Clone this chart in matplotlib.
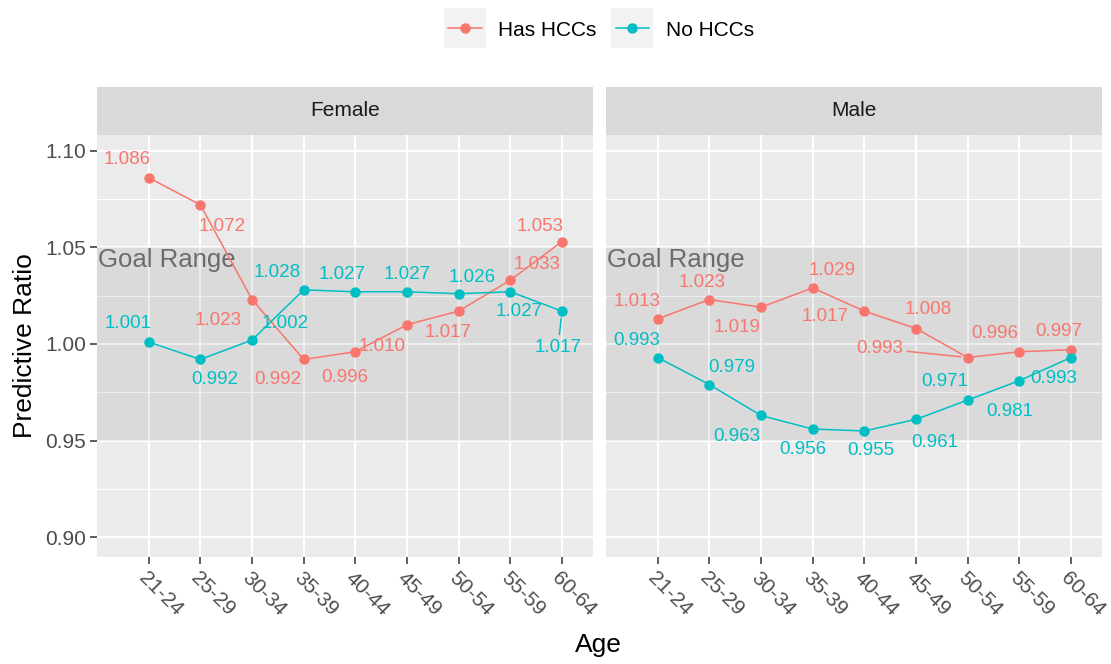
import matplotlib
matplotlib.use("Agg")
import matplotlib.pyplot as plt
from matplotlib.patches import Rectangle
from matplotlib.lines import Line2D
from matplotlib.legend_handler import HandlerLine2D
import matplotlib.transforms as mtransforms

plt.rcParams['font.family'] = ['Liberation Sans', 'DejaVu Sans']

ages = ["21-24", "25-29", "30-34", "35-39", "40-44", "45-49", "50-54", "55-59", "60-64"]
panels = ["Female", "Male"]
series = ["Has HCCs", "No HCCs"]

female_has = [1.086, 1.072, 1.023, 0.992, 0.996, 1.010, 1.017, 1.033, 1.053]
female_no = [1.001, 0.992, 1.002, 1.028, 1.027, 1.027, 1.026, 1.027, 1.017]
male_has = [1.013, 1.023, 1.019, 1.029, 1.017, 1.008, 0.993, 0.996, 0.997]
male_no = [0.993, 0.979, 0.963, 0.956, 0.955, 0.961, 0.971, 0.981, 0.993]

goal_low, goal_high = 0.95, 1.05
yticks = [0.90, 0.95, 1.00, 1.05, 1.10]

# label offsets (pixels, right/up) emulating ggrepel placement
off_female_has = [(-21, 18), (22, -22), (-34, -21), (-26, -20), (-11, -26), (-25, -22), (-11, -21), (27, 16), (-22, 15)]
off_female_no = [(-21, 19), (14, -20), (33, 17), (-26, 17), (-13, 17), (0, 17), (14, 16), (9, -20), (-4, -36)]
off_male_has = [(-21, 17), (-7, 17), (-24, -20), (19, 17), (-39, -5), (12, 19), (-88, 9), (-25, 18), (-12, 18)]
off_male_no = [(-21, 17), (22, 17), (-24, -21), (-10, -20), (6, -20), (19, -23), (-23, 19), (-10, -31), (-17, -21)]
seg_female_no = [False]*8 + [True]
seg_male_has = [False]*6 + [True] + [False]*2

colors = {"Has HCCs": "#F8766D", "No HCCs": "#00BFC4"}

W, H = 1111, 664
fig = plt.figure(figsize=(W/100, H/100), dpi=100)
fig.patch.set_facecolor('white')

panel_x = [97, 606]
panel_w = 496
top, bottom = 135, 557
strip_top = 87

data = {
    "Female": {"Has HCCs": (female_has, off_female_has, [False]*9),
               "No HCCs": (female_no, off_female_no, seg_female_no)},
    "Male": {"Has HCCs": (male_has, off_male_has, seg_male_has),
             "No HCCs": (male_no, off_male_no, [False]*9)},
}

xs = list(range(1, len(ages)+1))
axes = []
for i, pname in enumerate(panels):
    ax = fig.add_axes([panel_x[i]/W, 1-bottom/H, panel_w/W, (bottom-top)/H])
    axes.append(ax)
    ax.set_facecolor('#EBEBEB')
    ax.set_xlim(0, 9.6)
    ax.set_ylim(0.8898, 1.1081)
    for s in ax.spines.values():
        s.set_visible(False)
    # grid
    for y in yticks:
        ax.axhline(y, color='white', lw=1.5, zorder=1)
    for y in [0.925, 0.975, 1.025, 1.075]:
        ax.axhline(y, color='white', lw=0.75, zorder=1)
    for x in xs:
        ax.axvline(x, color='white', lw=1.5, zorder=1)
    ax.axhspan(goal_low, goal_high, color='black', alpha=0.072, lw=0, zorder=2)
    trans = mtransforms.blended_transform_factory(ax.transAxes, ax.transData)
    ax.text(0.003, 1.0435, "Goal Range", transform=trans, ha='left', va='center',
            fontsize=18.5, color='#6B6B6B', zorder=3)
    for sname in series:
        vals, offs, segs = data[pname][sname]
        c = colors[sname]
        ax.plot(xs, vals, color=c, lw=1.1, marker='o', markersize=6.5, zorder=4)
        for x, v, o, sg in zip(xs, vals, offs, segs):
            kw = {}
            if sg:
                kw['arrowprops'] = dict(arrowstyle='-', color=c, lw=1.1, shrinkA=1, shrinkB=5)
            ax.annotate(f"{v:.3f}", (x, v), xytext=o, textcoords='offset pixels',
                        ha='center', va='center', fontsize=13.5, color=c, zorder=5, **kw)
    ax.set_xticks(xs)
    ax.set_xticklabels(ages, rotation=-45, ha='left', va='top', rotation_mode='anchor',
                       fontsize=15, color='#4D4D4D')
    ax.set_yticks(yticks)
    ax.tick_params(axis='both', color='#333333', length=5, width=1.1, pad=3)
    if i == 0:
        ax.set_yticklabels([f"{y:.2f}" for y in yticks], fontsize=15, color='#4D4D4D')
        ax.set_ylabel("Predictive Ratio", fontsize=19, color='black', labelpad=6)
    else:
        ax.tick_params(axis='y', left=False, labelleft=False)

    # strip
    sax = fig.add_axes([panel_x[i]/W, 1-top/H, panel_w/W, (top-strip_top)/H])
    sax.set_facecolor('#D9D9D9')
    sax.set_xticks([]); sax.set_yticks([])
    for s in sax.spines.values():
        s.set_visible(False)
    sax.text(0.5, 0.5, pname, ha='center', va='center', fontsize=15, color='#1A1A1A',
             transform=sax.transAxes)

fig.text(598/W, 1-645/H, "Age", ha='center', va='center', fontsize=19, color='black')


class BoxHandler(HandlerLine2D):
    def create_artists(self, legend, orig_handle, xdescent, ydescent, width, height, fontsize, trans):
        arts = super().create_artists(legend, orig_handle, xdescent, ydescent, width, height, fontsize, trans)
        px, py = 3, 9
        r = Rectangle((-xdescent - px, -ydescent - py), width + 2*px, height + 2*py,
                      facecolor='#F2F2F2', edgecolor='none', transform=trans)
        return [r] + list(arts)


handles = [Line2D([], [], color=colors[s], lw=1.1, marker='o', markersize=6.5) for s in series]
fig.legend(handles, series, loc='center', bbox_to_anchor=(601/W, 1-30/H), ncol=2, frameon=False,
           fontsize=15, handlelength=1.6, handletextpad=0.8, columnspacing=0.9,
           handler_map={Line2D: BoxHandler(numpoints=1)})

fig.savefig("out.png", dpi=100)
